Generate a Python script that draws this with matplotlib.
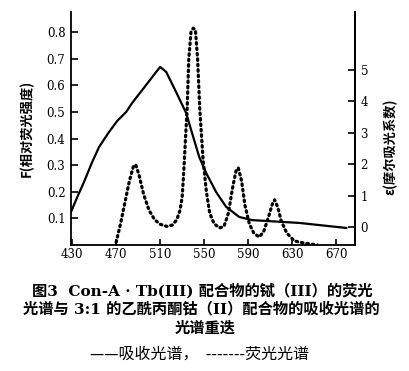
import numpy as np
import matplotlib
matplotlib.use("Agg")
import matplotlib.pyplot as plt

# 荧光光谱 (左轴 F)
fluo_wl = [470, 474, 478, 482, 486, 488, 491, 495, 500, 505, 510, 516, 521, 525,
           528, 530, 531.5, 533, 534.5, 536, 538, 540, 542, 544, 546, 549, 552,
           555, 559, 564, 568, 572, 576, 579, 581, 584, 587, 591, 595, 600, 604,
           608, 612, 614, 617, 620, 625, 632, 640, 653]
fluo_F = [0.01, 0.08, 0.16, 0.24, 0.30, 0.30, 0.26, 0.19, 0.13, 0.095, 0.078, 0.07,
          0.075, 0.094, 0.13, 0.18, 0.28, 0.40, 0.51, 0.70, 0.80, 0.815, 0.81, 0.70,
          0.51, 0.32, 0.20, 0.12, 0.08, 0.064, 0.07, 0.12, 0.22, 0.28, 0.29, 0.24,
          0.15, 0.08, 0.045, 0.03, 0.05, 0.10, 0.155, 0.17, 0.14, 0.09, 0.045,
          0.015, 0.008, 0.0]

# 吸收光谱 (右轴 ε)
abs_wl = [429, 435, 441, 448, 454.5, 463.6, 471, 479, 484.5, 493.6, 506.4, 510,
          515.5, 524.5, 533.6, 539, 545.5, 551.8, 560.9, 570, 581.8, 593.6, 636.4, 679]
abs_eps = [0.48, 0.98, 1.45, 2.05, 2.55, 3.03, 3.38, 3.66, 3.95, 4.36, 4.94, 5.10,
           4.94, 4.30, 3.63, 2.99, 2.23, 1.72, 1.11, 0.64, 0.32, 0.22, 0.13, -0.03]

x_ticks = [430, 470, 510, 550, 590, 630, 670]
left_ticks = [0.1, 0.2, 0.3, 0.4, 0.5, 0.6, 0.7, 0.8]
right_ticks = [0, 1, 2, 3, 4, 5]

num_font = "DejaVu Serif"
cjk = ["Noto Sans CJK SC", "DejaVu Sans"]
cap_font = ["DejaVu Serif", "Noto Sans CJK SC"]

fig = plt.figure(figsize=(4.1, 3.71), dpi=100)
ax = fig.add_axes([71 / 410, 1 - 245 / 371, (355 - 71) / 410, (245 - 12) / 371])
ax2 = ax.twinx()

ax.plot(fluo_wl, fluo_F, color="black", lw=2.3, linestyle=(0, (0.5, 1.2)),
        dash_capstyle="round")
ax2.plot(abs_wl, abs_eps, color="black", lw=1.6)

ax.set_xlim(429, 687)
ax.set_ylim(0, 0.876)
ax2.set_ylim(-0.573, 6.85)

ax.set_xticks(x_ticks)
ax.set_yticks(left_ticks)
ax.set_yticklabels([f"{v:.1f}" for v in left_ticks])
ax2.set_yticks(right_ticks)

for a in (ax, ax2):
    a.spines["top"].set_visible(False)
    for s in a.spines.values():
        s.set_linewidth(1.3)
    a.tick_params(direction="in", length=5, width=1.2, labelsize=8.5, pad=4)
    for lab in a.get_xticklabels() + a.get_yticklabels():
        lab.set_fontfamily(num_font)
ax.tick_params(axis="x", length=4, pad=2)
ax2.spines["left"].set_visible(False)
ax2.spines["bottom"].set_visible(False)

fig.text(27 / 410, 1 - 128 / 371, "F(相对荧光强度)", rotation=90, ha="center",
         va="center", fontsize=9.5, fontweight="bold", family=cjk)
fig.text(390 / 410, 1 - 147 / 371, "ε(摩尔吸光系数)", rotation=90, ha="center",
         va="center", fontsize=9.5, fontweight="bold", family=cjk)

fig.text(202 / 410, 1 - 291 / 371, "图3  Con-A · Tb(III) 配合物的铽（III）的荧光",
         ha="center", va="center", fontsize=11, fontweight="bold", family=cap_font)
fig.text(201 / 410, 1 - 309 / 371, "光谱与 3:1 的乙酰丙酮钴（II）配合物的吸收光谱的",
         ha="center", va="center", fontsize=11, fontweight="bold", family=cap_font)
fig.text(205 / 410, 1 - 329 / 371, "光谱重迭",
         ha="center", va="center", fontsize=11, fontweight="bold", family=cap_font)
fig.text(200 / 410, 1 - 354 / 371, "——吸收光谱，  -------荧光光谱",
         ha="center", va="center", fontsize=11.5, family=cjk)

fig.savefig("out.png", dpi=100)
